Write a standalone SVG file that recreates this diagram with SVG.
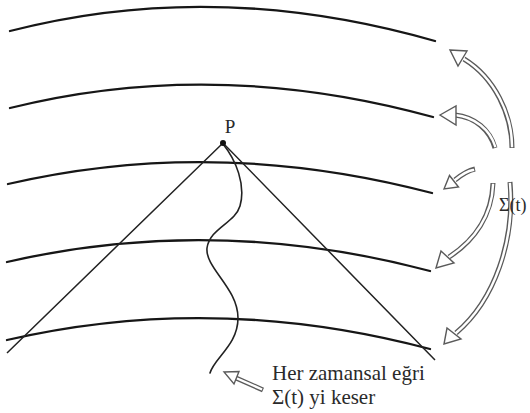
<svg xmlns="http://www.w3.org/2000/svg" width="530" height="413" viewBox="0 0 530 413">
<style>
.slice{fill:none;stroke:#161616;stroke-width:2.3;stroke-linecap:round}
.cone{fill:none;stroke:#222;stroke-width:1.5}
.wave{fill:none;stroke:#222;stroke-width:1.6;stroke-linecap:round}
.ao{fill:none;stroke:#5a5a5a;stroke-width:5;stroke-linecap:butt}
.ai{fill:none;stroke:#fff;stroke-width:2.4;stroke-linecap:square}
.ah{fill:#fff;stroke:#5a5a5a;stroke-width:1.4;stroke-linejoin:miter}
</style>
<rect width="530" height="413" fill="#fff"/>
<g id="slices">
<path id="slice1" class="slice" d="M10,31 Q215,-22 435,41"/>
<path id="slice2" class="slice" d="M10,108 Q215,57 433,117"/>
<path id="slice3" class="slice" d="M8,184 Q215,136 432,193"/>
<path id="slice4" class="slice" d="M7,262 Q215,214 430,271"/>
<path id="slice5" class="slice" d="M7,340 Q215,292 430,349"/>
</g>
<g id="cone">
<path class="cone" d="M7,353 L223,143 L435,360"/>
</g>
<g id="worldline">
<path class="wave" d="M223,144 C236,160 246,185 240,206 C235,223 210,228 207,248 C205,268 238,288 238,318 C238,345 214,358 210,373"/>
</g>
<g id="P">
<circle cx="223" cy="143" r="3" fill="#111"/>
<text x="230" y="133" font-family="'Liberation Serif', 'DejaVu Serif', serif" font-size="19" fill="#2a2a2a" text-anchor="middle">P</text>
</g>
<g id="connectors">
<g id="arrowA">
<path class="ao" d="M512,148 C512,115 495,78 464,59"/>
<path class="ai" d="M512,146 C512,115 495,78 464,59"/>
<polygon class="ah" points="450,50 467,51 458,66"/>
</g>
<g id="arrowB">
<path class="ao" d="M495,148 C490,130 475,117 455,115"/>
<path class="ai" d="M495,146 C490,130 475,117 455,115"/>
<polygon class="ah" points="440,115 456,106 456,125"/>
</g>
<g id="arrowC">
<path class="ao" d="M475,169 Q466,171 455,180"/>
<path class="ai" d="M473,170 Q466,171 455,180"/>
<polygon class="ah" points="444,189 449.5,175.5 458.5,187"/>
</g>
<g id="arrowD">
<path class="ao" d="M493,183 C492,215 475,240 449,257"/>
<path class="ai" d="M493,185 C492,215 475,240 449,257"/>
<polygon class="ah" points="436,268 441,251 454,263"/>
</g>
<g id="arrowE">
<path class="ao" d="M510,182 C515,240 495,300 456,333"/>
<path class="ai" d="M510,184 C515,240 495,300 456,333"/>
<polygon class="ah" points="444,344 447,328 461,339"/>
</g>
<g id="arrowF">
<path class="ao" d="M263,390 L236,378"/>
<path class="ai" d="M261,389 L236,378"/>
<polygon class="ah" points="224,372 239,371.5 234,384"/>
</g>
</g>
<g id="sigma">
<text x="499" y="211" font-family="'Liberation Serif', 'DejaVu Serif', serif" font-size="18" fill="#2a2a2a">Σ(t)</text>
</g>
<g id="caption">
<text x="272" y="380" font-family="'Liberation Serif', 'DejaVu Serif', serif" font-size="21" fill="#2a2a2a">Her zamansal eğri</text>
<text x="272" y="404" font-family="'Liberation Serif', 'DejaVu Serif', serif" font-size="21" fill="#2a2a2a">Σ(t) yi keser</text>
</g>
</svg>
